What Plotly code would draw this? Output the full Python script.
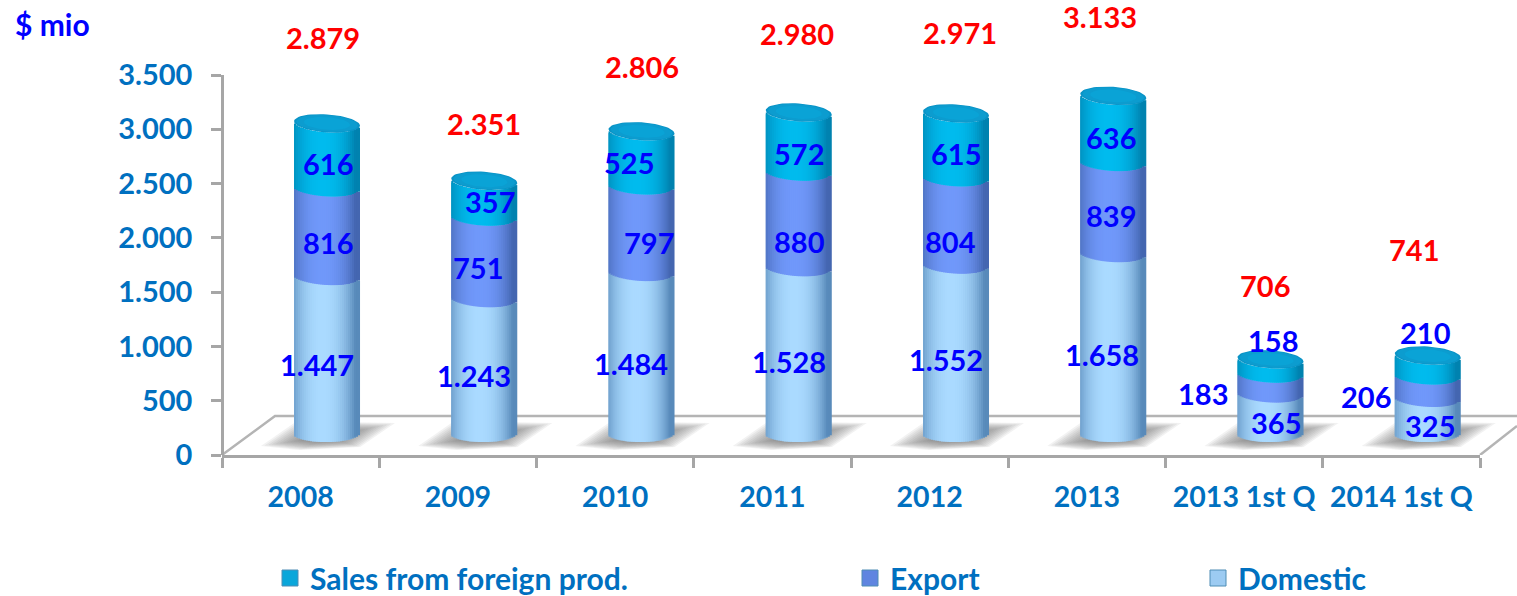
import math
import plotly.graph_objects as go

categories = ["2008", "2009", "2010", "2011", "2012", "2013", "2013 1st Q", "2014 1st Q"]
domestic = [1447, 1243, 1484, 1528, 1552, 1658, 365, 325]
export = [816, 751, 797, 880, 804, 839, 183, 206]
foreign = [616, 357, 525, 572, 615, 636, 158, 210]
totals = [2879, 2351, 2806, 2980, 2971, 3133, 706, 741]
domestic_text = ["1.447", "1.243", "1.484", "1.528", "1.552", "1.658", "365", "325"]
export_text = ["816", "751", "797", "880", "804", "839", "183", "206"]
foreign_text = ["616", "357", "525", "572", "615", "636", "158", "210"]
total_text = ["2.879", "2.351", "2.806", "2.980", "2.971", "3.133", "706", "741"]
y_ticks = [0, 500, 1000, 1500, 2000, 2500, 3000, 3500]
y_tick_text = ["0", "500", "1.000", "1.500", "2.000", "2.500", "3.000", "3.500"]

# label centres (page pixels)
foreign_pos = [(328, 165), (490, 202), (629, 163), (799, 154), (956, 154), (1111, 138), (1273, 341), (1425, 333)]
export_pos = [(328, 243), (478, 268), (649, 243), (799, 242), (950, 242), (1111, 217), (1203, 394), (1366, 397)]
domestic_pos = [(317, 365), (474, 376), (631, 364), (789, 362), (946, 360), (1102, 355), (1276, 424), (1430, 426)]
total_pos = [(323, 38), (484, 124), (642, 67), (797, 35), (960, 33), (1100, 18), (1265, 286), (1414, 250)]

W, H = 1517, 596
X0, X1, Y0, Y1 = 222, 1480, 455, 75
FONT = "Lato"
AXIS_BLUE = "#0070C0"
GREY = "#A6A6A6"
FLOOR = "#B4B4B4"

ux = (X1 - X0) / 8.0        # px per category
uy = (Y0 - Y1) / 3500.0     # px per value unit
def dx(px): return px / ux
def dy(px): return px / uy
def to_x(px): return (px - X0) / ux - 0.5
def to_y(py): return (Y0 - py) / uy

SHIFT = 26.4 / ux           # 3-D floor offset of the bars
R = 33 / ux
RY = 9
BASE = dy(Y0 - 433)
TOP_TRIM = 3                # px the cap sits lower than the plain stack
N = 33

def lerp(a, b, t):
    return "rgb(%d,%d,%d)" % tuple(round(a[i] + (b[i] - a[i]) * t) for i in range(3))

def shade(edge, mid, u):
    t = 1 - abs(u + 0.08) ** 2.3
    return lerp(edge, mid, max(0, min(1, t)))

fig = go.Figure()
centres = [i + SHIFT for i in range(len(categories))]

# floor (on the full-width base axis, drawn below everything else)
fig.add_trace(go.Scatter(x=[to_x(222), to_x(275), to_x(1517)], y=[to_y(455), to_y(416), to_y(416)],
                         mode="lines", line=dict(color=FLOOR, width=2.5), xaxis="x", yaxis="y",
                         cliponaxis=False, showlegend=False, hoverinfo="skip"))
fig.add_trace(go.Scatter(x=[to_x(1480), to_x(1517)], y=[to_y(455), to_y(426)], mode="lines",
                         line=dict(color=FLOOR, width=2.5), xaxis="x", yaxis="y", cliponaxis=False,
                         showlegend=False, hoverinfo="skip"))

# soft floor shadows
shadow_shape = [(-66, 13), (-30, -12), (68, -10), (33, 14), (-28, 17)]
for k in range(12):
    s = 1 - k * 0.055
    sx, sy = [], []
    for c in centres:
        for px, py in shadow_shape + shadow_shape[:1]:
            sx.append(c + dx(px * s))
            sy.append(BASE - dy(py * s + 4 * (1 - s)))
        sx.append(None)
        sy.append(None)
    fig.add_trace(go.Scatter(x=sx, y=sy, mode="lines", fill="toself", line=dict(width=0),
                             fillcolor="rgba(110,110,110,0.085)", xaxis="x", yaxis="y", cliponaxis=False,
                             showlegend=False, hoverinfo="skip"))

# cylinder bodies: thin vertical strips sharing the stacked scale
series = [
    ("Domestic", domestic, (88, 138, 186), (170, 218, 255)),
    ("Export", export, (68, 102, 176), (112, 152, 250)),
    ("Sales from foreign prod.", foreign, (0, 130, 175), (0, 187, 238)),
]
for j in range(N):
    u = -1 + (2 * j + 1) / N
    arc = RY * math.sqrt(1 - u * u)
    tilt = -2.2 * u
    running = [BASE] * len(categories)
    for idx, (name, vals, edge, mid) in enumerate(series):
        trim = dy(TOP_TRIM) if idx == 2 else 0
        bases = [r - dy(arc) + (dy(tilt) if idx > 0 else 0) for r in running]
        tops = [r + v - dy(arc) + dy(tilt) - trim for r, v in zip(running, vals)]
        # strips are painted left to right, each one overlapping the previous one
        fig.add_trace(go.Bar(
            x=[c + (u - 1 / N) * R for c in centres] if j else [c + u * R for c in centres],
            y=[t - b for t, b in zip(tops, bases)], base=bases,
            width=(2 * R / N) * 2 if j else 2 * R / N,
            marker=dict(color=shade(edge, mid, u), line=dict(width=0)),
            xaxis="x2", yaxis="y", cliponaxis=False, showlegend=False, hoverinfo="skip"))
        running = [r + v for r, v in zip(running, vals)]

# top caps
ts = [2 * math.pi * i / 60 for i in range(61)]
tops_all = [r - dy(TOP_TRIM) for r in running]
for scale, colour in [(1.0, "#0A93C6"), (0.93, "#0C9CCF"), (0.7, "#0AA3D6")]:
    cx, cy = [], []
    for c, t in zip(centres, tops_all):
        for a in ts:
            cx.append(c + R * scale * math.cos(a))
            cy.append(t + dy(RY * scale * math.sin(a) - 2.2 * scale * math.cos(a)))
        cx.append(None)
        cy.append(None)
    fig.add_trace(go.Scatter(x=cx, y=cy, mode="lines", fill="toself", line=dict(width=0),
                             fillcolor=colour, xaxis="x2", yaxis="y", cliponaxis=False,
                             showlegend=False, hoverinfo="skip"))

# legend entries
legend_items = [("Sales from foreign prod.", "#0AA6DA", "legend"),
                ("Export", "#5F85E0", "legend2"),
                ("Domestic", "#9CCBF2", "legend3")]
for name, colour, leg in legend_items:
    fig.add_trace(go.Scatter(x=[None], y=[None], name=name, mode="markers", legend=leg,
                             xaxis="x2", yaxis="y",
                             marker=dict(symbol="square", size=18, color=colour,
                                         line=dict(color="#4F8DB5", width=1)),
                             hoverinfo="skip"))

def label(texts, positions, colour, size=29):
    for t, (px, py) in zip(texts, positions):
        fig.add_annotation(x=px / W, y=1 - (py - 1) / H, xref="paper", yref="paper", text=t, showarrow=False,
                           xanchor="center", yanchor="middle",
                           font=dict(family=FONT, size=size, color=colour, weight="bold"))

label(foreign_text, foreign_pos, "#0000FF")
label(export_text, export_pos, "#0000FF")
label(domestic_text, domestic_pos, "#0000FF")
label(total_text, total_pos, "#FF0000")
label(["$ mio"], [(52, 25)], "#0000FF", 30)

legend_font = dict(family=FONT, size=30, color=AXIS_BLUE, weight="bold")
def legend_at(px):
    return dict(x=px / W, y=1 - 578 / H, xanchor="left", yanchor="middle", bgcolor="rgba(0,0,0,0)",
                font=legend_font, itemwidth=30, tracegroupgap=0)

tick_font = dict(family=FONT, size=29, color=AXIS_BLUE, weight="bold")
fig.update_layout(
    width=W, height=H, autosize=False, margin=dict(l=0, r=0, t=0, b=0, autoexpand=False),
    paper_bgcolor="white", plot_bgcolor="rgba(0,0,0,0)", barmode="overlay", showlegend=True,
    legend=legend_at(270), legend2=legend_at(850), legend3=legend_at(1198),
    xaxis=dict(domain=[0, 1], range=[to_x(0), to_x(W)], visible=False, anchor="y"),
    xaxis2=dict(domain=[X0 / W, X1 / W], range=[-0.5, 7.5], anchor="y", side="bottom",
                tickmode="array", tickvals=list(range(len(categories))), ticktext=categories, ticks="",
                ticklabelstandoff=15,
                showline=True, linecolor=GREY, linewidth=2.5, showgrid=False, zeroline=False,
                tickfont=dict(family=FONT, size=28.5, color=AXIS_BLUE, weight="bold"),
                minor=dict(tickmode="array", tickvals=[i - 0.5 for i in range(len(categories) + 1)],
                           ticks="outside", ticklen=10, tickwidth=2.5, tickcolor=GREY, showgrid=False)),
    yaxis=dict(domain=[1 - Y0 / H, 1 - Y1 / H], range=[0, 3500], tickmode="array", anchor="free",
               position=X0 / W, tickvals=y_ticks, ticktext=y_tick_text, ticks="outside", ticklen=10,
               tickwidth=2.5, ticklabelstandoff=13,
               tickcolor=GREY, showline=True, linecolor=GREY, linewidth=2.5, showgrid=False,
               zeroline=False, tickfont=tick_font),
)

fig.write_html("out.html", config={"displayModeBar": False},
               post_script="document.body.style.margin='0';")
